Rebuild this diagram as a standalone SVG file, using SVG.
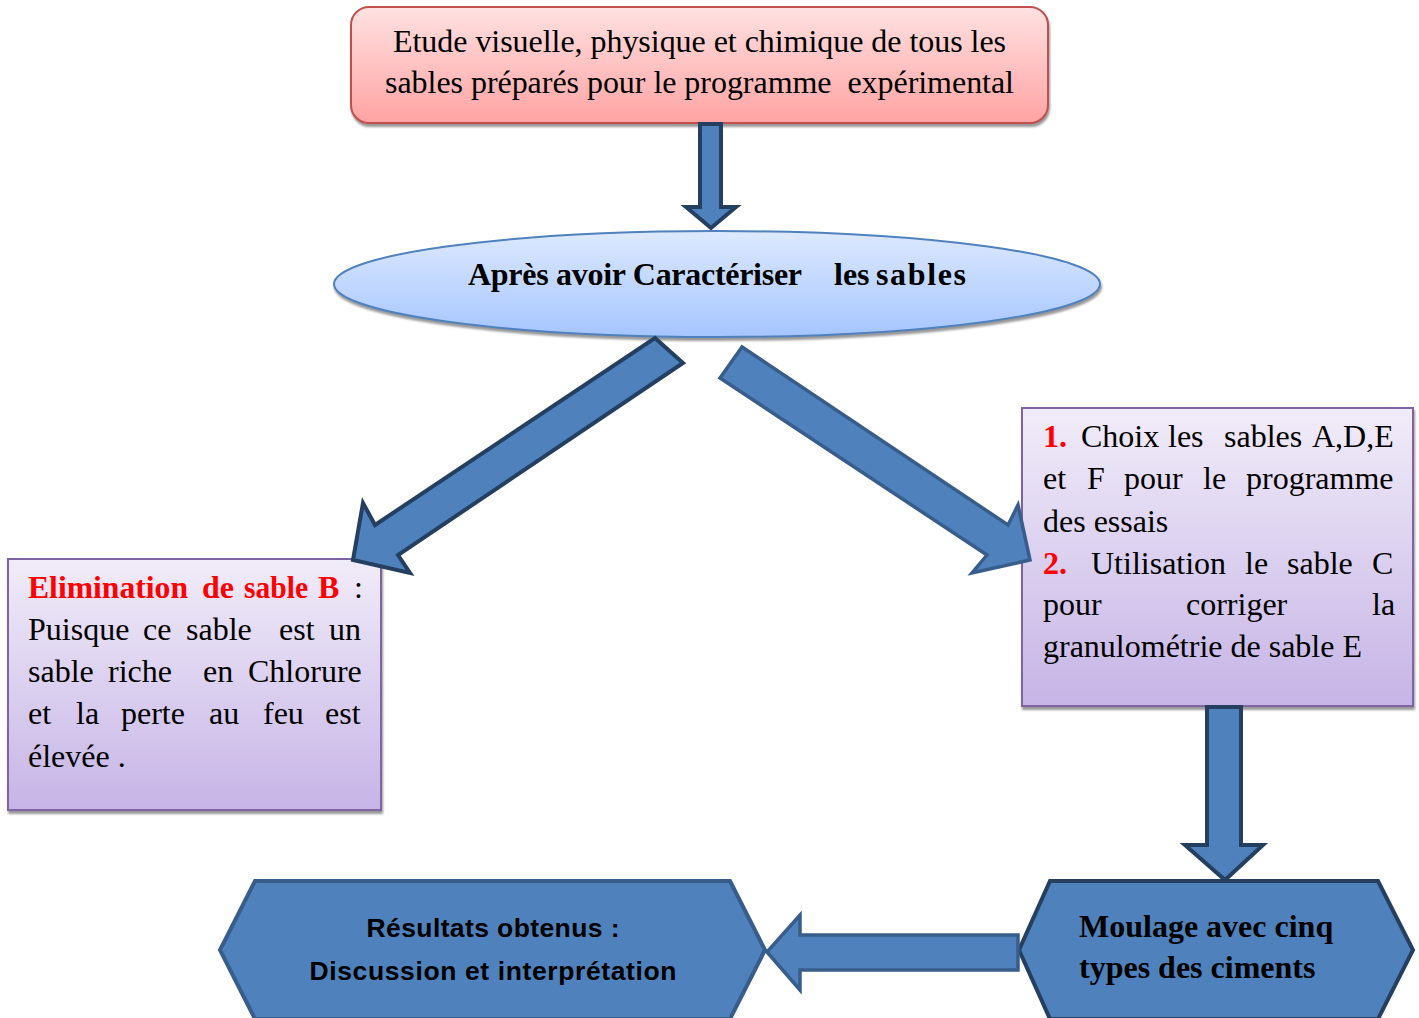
<svg xmlns="http://www.w3.org/2000/svg" width="1419" height="1018" viewBox="0 0 1419 1018">
<defs>
<linearGradient id="gPink" x1="0" y1="0" x2="0" y2="1"><stop offset="0" stop-color="#ffe1e1"/><stop offset="1" stop-color="#ffa3a3"/></linearGradient>
<linearGradient id="gBlue" x1="0" y1="0" x2="0" y2="1"><stop offset="0" stop-color="#dde9ff"/><stop offset="1" stop-color="#a5c5fe"/></linearGradient>
<linearGradient id="gPurple" x1="0" y1="0" x2="0" y2="1"><stop offset="0" stop-color="#f1ecf9"/><stop offset="1" stop-color="#c6b4e6"/></linearGradient>
<filter id="sh" x="-5%" y="-10%" width="110%" height="130%"><feDropShadow dx="1" dy="3" stdDeviation="1.2" flood-color="#7f7f7f" flood-opacity="0.8"/></filter>
</defs>
<style>
.serif{font-family:"Liberation Serif","Times New Roman",serif;font-size:32px;fill:#000}
.b{font-weight:bold}
.red{fill:#ff0000;font-weight:bold}
.sans{font-family:"Liberation Sans",Arial,sans-serif;font-size:26.5px;font-weight:bold;fill:#000}
.arrD{fill:#4f81bd;stroke:#243f60;stroke-width:4;stroke-linejoin:miter}
.arrL{fill:#4f81bd;stroke:#385d8a;stroke-width:3.5;stroke-linejoin:miter}
.box{fill:url(#gPurple);stroke:#8064a2;stroke-width:2;filter:url(#sh)}
</style>
<rect width="1419" height="1018" fill="#ffffff"/>

<g id="node-etude">
<rect x="351" y="7" width="697" height="116" rx="18" fill="url(#gPink)" stroke="#c0504d" stroke-width="2" filter="url(#sh)"/>
<text class="serif" x="699.5" y="52" text-anchor="middle" textLength="613" lengthAdjust="spacing">Etude visuelle, physique et chimique de tous les</text>
<text class="serif" x="699.5" y="93" text-anchor="middle" textLength="629" lengthAdjust="spacing" xml:space="preserve">sables préparés pour le programme  expérimental</text>
</g>

<g id="node-apres">
<ellipse cx="717" cy="284" rx="383" ry="53" fill="url(#gBlue)" stroke="#4f81bd" stroke-width="2" filter="url(#sh)"/>
<text class="serif b" y="285"><tspan x="468" textLength="334" lengthAdjust="spacing">Après avoir Caractériser</tspan><tspan x="834">les</tspan><tspan x="876" textLength="90" lengthAdjust="spacing">sables</tspan></text>
</g>

<g id="node-elimination">
<rect class="box" x="8" y="559" width="373" height="251"/>
<text class="serif" y="598"><tspan class="red" x="28" textLength="160" lengthAdjust="spacingAndGlyphs">Elimination</tspan><tspan class="red" x="202">de</tspan><tspan class="red" x="244" textLength="64" lengthAdjust="spacingAndGlyphs">sable</tspan><tspan class="red" x="318">B</tspan><tspan x="354">:</tspan></text>
<text class="serif" y="640"><tspan x="28">Puisque</tspan><tspan x="143">ce</tspan><tspan x="186">sable</tspan><tspan x="279">est</tspan><tspan x="329">un</tspan></text>
<text class="serif" y="682"><tspan x="28">sable</tspan><tspan x="108">riche</tspan><tspan x="203">en</tspan><tspan x="248">Chlorure</tspan></text>
<text class="serif" y="724"><tspan x="28">et</tspan><tspan x="76">la</tspan><tspan x="121">perte</tspan><tspan x="209">au</tspan><tspan x="263">feu</tspan><tspan x="325">est</tspan></text>
<text class="serif" x="28" y="767">élevée .</text>
</g>

<g id="node-choix">
<rect class="box" x="1022" y="408" width="391" height="298"/>
<text class="serif" y="447"><tspan class="red" x="1043">1.</tspan><tspan x="1081">Choix</tspan><tspan x="1168">les</tspan><tspan x="1224">sables</tspan><tspan x="1312">A,D,E</tspan></text>
<text class="serif" y="489"><tspan x="1043">et</tspan><tspan x="1087">F</tspan><tspan x="1124">pour</tspan><tspan x="1203">le</tspan><tspan x="1246">programme</tspan></text>
<text class="serif" x="1043" y="532">des essais</text>
<text class="serif" y="574"><tspan class="red" x="1043">2.</tspan><tspan x="1091">Utilisation</tspan><tspan x="1245">le</tspan><tspan x="1287">sable</tspan><tspan x="1372">C</tspan></text>
<text class="serif" y="615"><tspan x="1043">pour</tspan><tspan x="1186">corriger</tspan><tspan x="1372">la</tspan></text>
<text class="serif" x="1043" y="657">granulométrie de sable E</text>
</g>

<g id="node-moulage">
<polygon points="1050,881 1378,881 1413,950 1378,1019 1050,1019 1019,950" fill="#4f81bd" stroke="#243f60" stroke-width="4"/>
<text class="serif b" x="1079" y="937">Moulage avec cinq</text>
<text class="serif b" x="1079" y="978">types des ciments</text>
</g>

<g id="node-resultats">
<polygon points="255,881 730,881 765,950 730,1019 255,1019 220,950" fill="#4f81bd" stroke="#385d8a" stroke-width="4"/>
<text class="sans" x="493" y="937" text-anchor="middle" textLength="253" lengthAdjust="spacing">Résultats obtenus :</text>
<text class="sans" x="493" y="980" text-anchor="middle" textLength="367" lengthAdjust="spacing">Discussion et interprétation</text>
</g>

<g id="connectors">
<polygon class="arrD" points="700,124 721,124 721,207 736,207 711,228 686,207 700,207"/>
<polygon class="arrD" points="655,338 683,363 398,555 410,573 353,560 363,503 375,525"/>
<polygon class="arrL" points="742,347 720,378 987,555 972,573 1030,560 1018,505 1008,525"/>
<polygon class="arrD" points="1207,707 1241,707 1241,845 1263,845 1225,880 1185,845 1207,845"/>
<polygon class="arrL" points="1018,935 800,935 800,915 767,952 800,990 800,970 1018,970"/>
</g>
</svg>
